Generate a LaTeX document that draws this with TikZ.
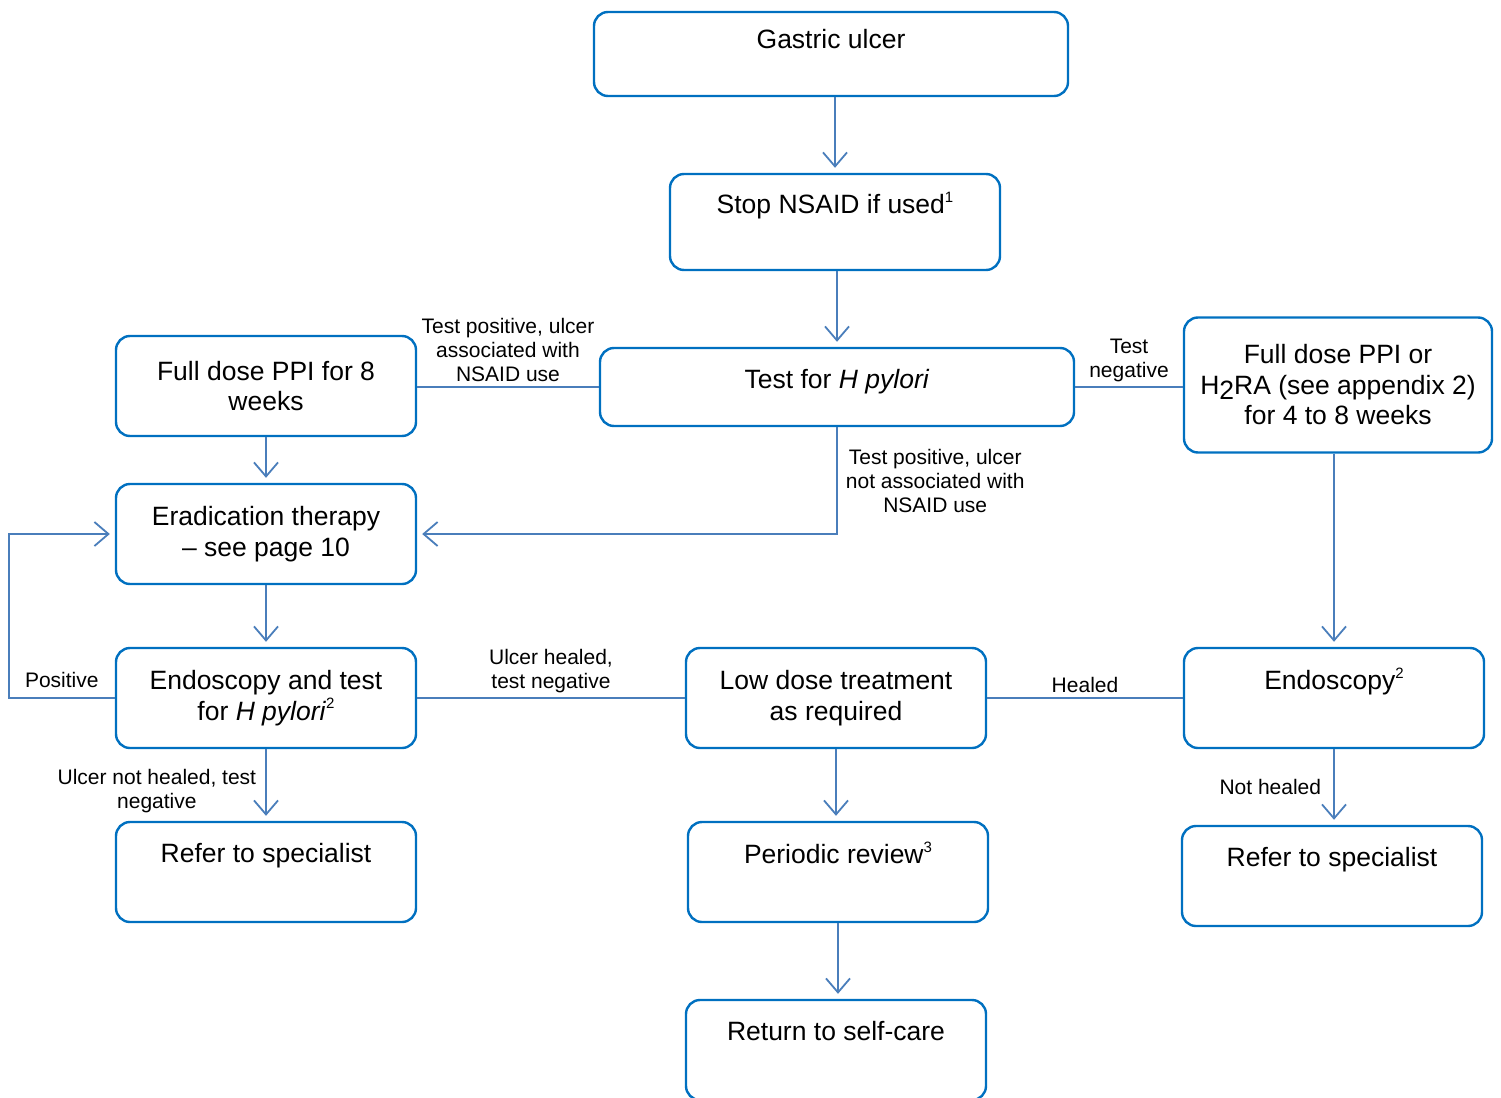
\documentclass[tikz,border=0pt]{standalone}
\usepackage{fontspec}
\setmainfont{Liberation Sans}
\usetikzlibrary{arrows.meta}
\definecolor{boxblue}{HTML}{0070C0}
\definecolor{lineblue}{HTML}{4A7EBB}
\newcommand{\upnote}[1]{\raisebox{0.8ex}{\fontsize{15}{15}\selectfont #1}}
\tikzset{
    box/.style={draw=boxblue, line width=2.4pt, rounded corners=14pt, align=center,
        minimum width=300pt, minimum height=100pt, inner sep=2pt,
        font=\fontsize{26.5}{30.5}\selectfont},
    link/.style={draw=lineblue, line width=1.8pt},
    arr/.style={link, -{Straight Barb[length=14pt,width=24pt]}, shorten >=5pt},
    lbl/.style={align=center, inner sep=4pt, font=\fontsize{21}{24}\selectfont}
}
\begin{document}
\begin{tikzpicture}[x=1pt,y=-1pt]
    \useasboundingbox (0,0) rectangle (1501,1097);
    \node[box, minimum width=474pt, minimum height=84pt] (gastric) at (831,54) {Gastric ulcer\\\mbox{}};
    \node[box, minimum width=330pt, minimum height=96pt] (stop) at (835,222) {Stop NSAID if used\upnote{1}\\[8pt]\mbox{}};
    \node[box, minimum width=474pt, minimum height=78pt, text depth=17pt] (test) at (837,387) {Test for \textit{H pylori}};
    \node[box] (ppi8) at (266,386) {Full dose PPI for 8\\weeks};
    \node[box, minimum width=308pt, minimum height=135pt] (ppih2) at (1338,385) {Full dose PPI or\\H\raisebox{-5pt}{2}RA (see appendix 2)\\for 4 to 8 weeks};
    \node[box] (erad) at (266,534) {Eradication therapy\\-- see page 10};
    \node[box] (endot) at (266,698) {Endoscopy and test\\for \textit{H pylori}\upnote{2}};
    \node[box] (low) at (836,698) {Low dose treatment\\as required};
    \node[box] (endo) at (1334,698) {Endoscopy\upnote{2}\\[8pt]\mbox{}};
    \node[box] (referL) at (266,872) {Refer to specialist\\[8pt]\mbox{}};
    \node[box] (review) at (838,872) {Periodic review\upnote{3}\\[8pt]\mbox{}};
    \node[box] (referR) at (1332,876) {Refer to specialist\\[8pt]\mbox{}};
    \node[box] (ret) at (836,1050) {Return to self-care\\[8pt]\mbox{}};

    \draw[arr] (stop.north |- gastric.south) -- (stop.north);
    \draw[arr] (test.north |- stop.south) -- (test.north);
    \draw[link] (test.west) -- node[lbl, above] {Test positive, ulcer\\associated with\\NSAID use} (test.west -| ppi8.east);
    \draw[link] (test.east) -- node[lbl, above] {Test\\negative} (test.east -| ppih2.west);
    \draw[arr] (test.south) |- node[lbl, pos=0.25, right, xshift=4pt] {Test positive, ulcer\\not associated with\\NSAID use} (erad.east);
    \draw[arr] (ppi8.south) -- (erad.north);
    \draw[arr] (erad.south) -- (endot.north);
    \draw[arr] (endot.west) -- node[lbl, above, yshift=5pt] {Positive} ++(-106,0) |- (erad.west);
    \draw[arr] (endot.south) -- node[lbl, left, xshift=-5pt, yshift=-6pt] {Ulcer not healed, test\\negative} (referL.north);
    \draw[link] (endot.east) -- node[lbl, above] {Ulcer healed,\\test negative} (low.west);
    \draw[link] (endo.west) -- node[lbl, above] {Healed} (low.east);
    \draw[arr] (endo.north |- ppih2.south) -- (endo.north);
    \draw[arr] (endo.south) -- node[lbl, left, xshift=-8pt] {Not healed} (endo.south |- referR.north);
    \draw[arr] (low.south) -- (low.south |- review.north);
    \draw[arr] (review.south) -- (review.south |- ret.north);
\end{tikzpicture}
\end{document}
